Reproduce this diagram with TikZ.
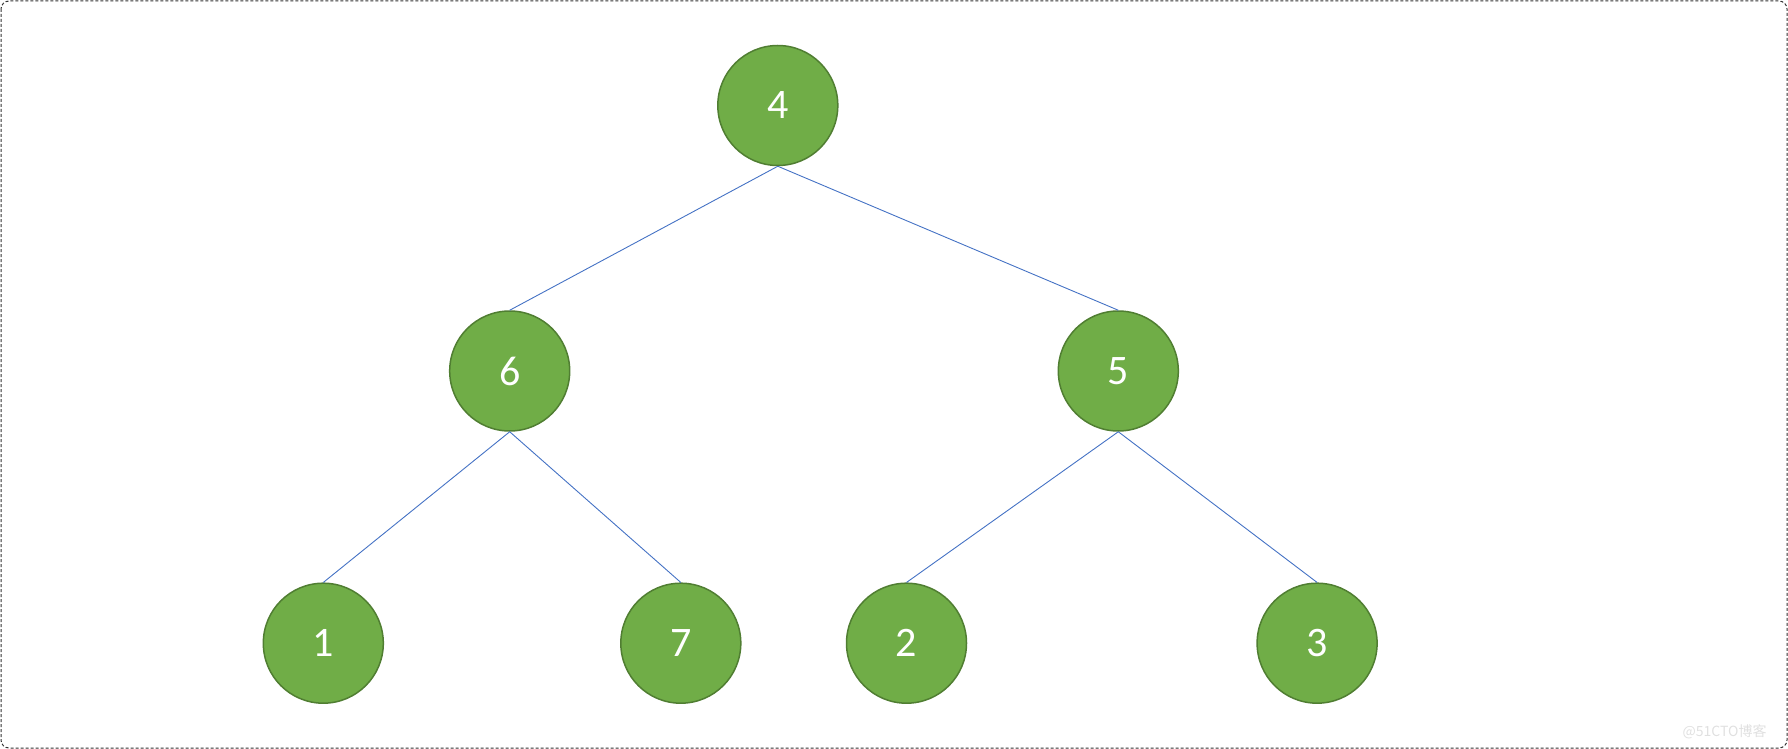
\documentclass[tikz,border=0pt]{standalone}
\usepackage{fontspec}
\setmainfont{Carlito}
\newfontfamily\cjkwm{Noto Sans CJK SC}
\definecolor{nodegreen}{HTML}{70AD47}
\definecolor{nodeedge}{HTML}{507E32}
\definecolor{edgeblue}{HTML}{4472C4}
\begin{document}
\begin{tikzpicture}[x=1pt,y=-1pt,
  tnode/.style={circle,fill=nodegreen,draw=nodeedge,line width=1.5pt,minimum size=120pt,inner sep=0pt,text=white,font=\fontsize{42}{48}\selectfont},
  tedge/.style={draw=edgeblue,line width=0.9pt}]
\useasboundingbox (0,0) rectangle (1788,749);
\draw[black!80,dashed,dash pattern=on 3pt off 2pt,line width=1pt,rounded corners=8pt] (1,1) rectangle (1787,748);
\node[tnode] (n4) at (777.8,105.5) {4};
\node[tnode] (n6) at (509.7,371) {6};
\node[tnode] (n5) at (1118.3,371) {5};
\node[tnode] (n1) at (323.3,643.2) {1};
\node[tnode] (n7) at (680.8,643.2) {7};
\node[tnode] (n2) at (906.5,643.2) {2};
\node[tnode] (n3) at (1317.1,643.2) {3};
\draw[tedge] (n4.south) -- (n6.north);
\draw[tedge] (n4.south) -- (n5.north);
\draw[tedge] (n6.south) -- (n1.north);
\draw[tedge] (n6.south) -- (n7.north);
\draw[tedge] (n5.south) -- (n2.north);
\draw[tedge] (n5.south) -- (n3.north);
\node[text=black!12,font=\cjkwm\fontsize{14}{16}\selectfont,anchor=east] (wm) at (1770,732) {@51CTO博客};
\end{tikzpicture}
\end{document}
